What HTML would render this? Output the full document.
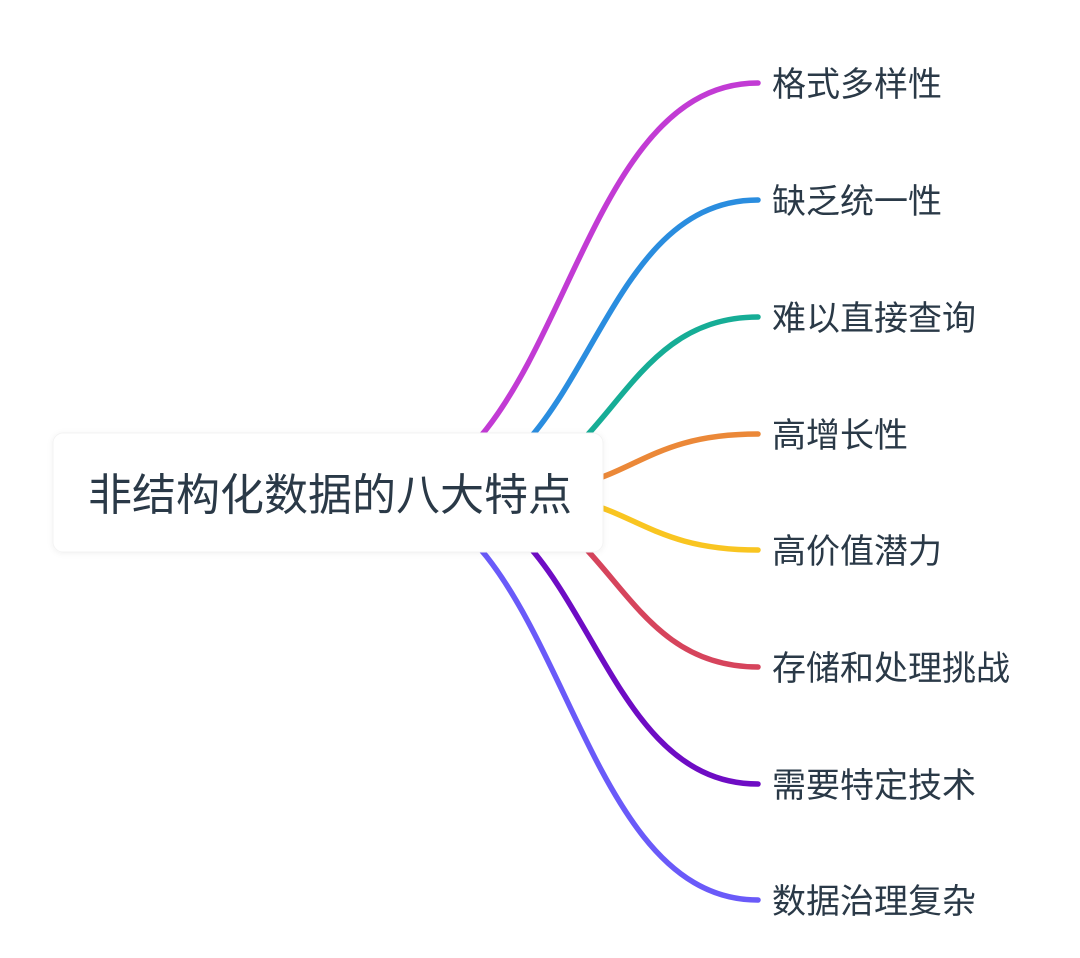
<!DOCTYPE html>
<html>
<head>
<meta charset="utf-8">
<style>
  html, body { margin: 0; padding: 0; background: #ffffff; }
  body { width: 1080px; height: 958px; overflow: hidden; }
  svg { display: block; }
  .lbl { font-family: "Liberation Sans", "Noto Sans CJK SC", sans-serif; font-size: 34px; fill: #2a3947; }
  .root { font-family: "Liberation Sans", "Noto Sans CJK SC", sans-serif; font-size: 44px; fill: #2a3947; }
</style>
</head>
<body>
<svg width="1080" height="958" viewBox="0 0 1080 958" xmlns="http://www.w3.org/2000/svg">
  <defs>
    <filter id="sh" x="-10%" y="-20%" width="120%" height="140%">
      <feDropShadow dx="0" dy="1" stdDeviation="3" flood-color="#000000" flood-opacity="0.06"/>
    </filter>
  </defs>
  <g fill="none" stroke-width="5.5" stroke-linecap="round">
    <path d="M372 493 C565 493 565 83 758 83" stroke="#c23bd4"/>
    <path d="M422 493 C590 493 590 200 758 200" stroke="#2a8ddf"/>
    <path d="M468 493 C613 493 613 317 758 317" stroke="#16ad96"/>
    <path d="M508 493 C633 493 633 434 758 434" stroke="#eb8838"/>
    <path d="M510 493 C634 493 634 550 758 550" stroke="#f9c521"/>
    <path d="M468 493 C613 493 613 667 758 667" stroke="#d6445c"/>
    <path d="M422 493 C590 493 590 784 758 784" stroke="#6e0cc4"/>
    <path d="M372 493 C565 493 565 900 758 900" stroke="#6a5af9"/>
  </g>
  <rect x="53" y="433" width="550" height="119" rx="10" ry="10" fill="#ffffff" stroke="#f3f3f3" stroke-width="1" filter="url(#sh)"/>
  <text class="root" x="88" y="510">非结构化数据的八大特点</text>
  <text class="lbl" x="772" y="96">格式多样性</text>
  <text class="lbl" x="772" y="213">缺乏统一性</text>
  <text class="lbl" x="772" y="330">难以直接查询</text>
  <text class="lbl" x="772" y="447">高增长性</text>
  <text class="lbl" x="772" y="563">高价值潜力</text>
  <text class="lbl" x="772" y="680">存储和处理挑战</text>
  <text class="lbl" x="772" y="797">需要特定技术</text>
  <text class="lbl" x="772" y="913">数据治理复杂</text>
</svg>
</body>
</html>
